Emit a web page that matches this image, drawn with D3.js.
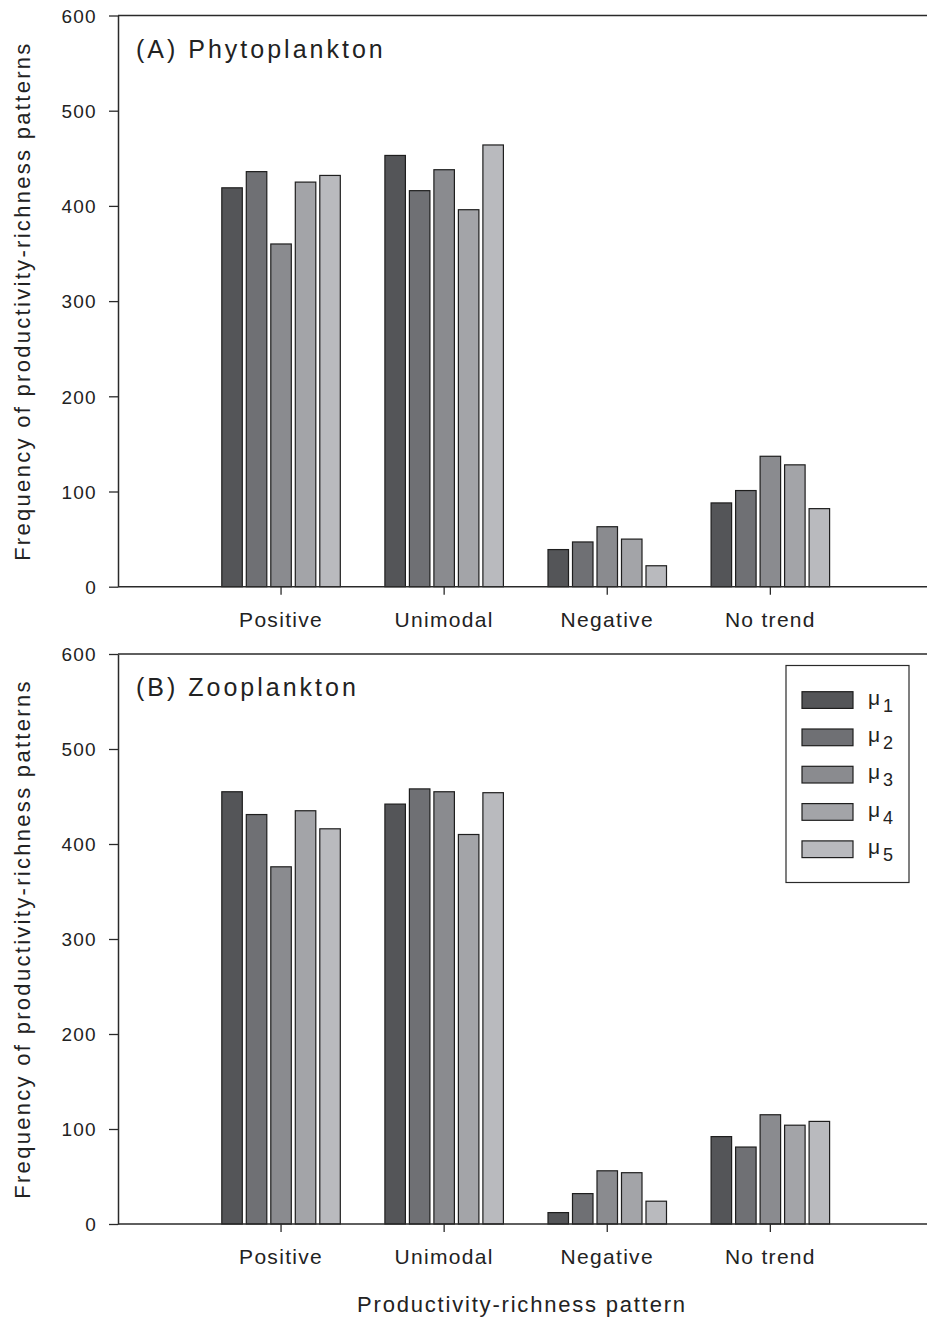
<!DOCTYPE html>
<html><head><meta charset="utf-8">
<script src="https://cdn.jsdelivr.net/npm/d3@7"></script>
<style>
body{margin:0;background:#fff}
text{font-family:"Liberation Sans",Arial,sans-serif;fill:#222}
</style>
</head><body>
<svg id="c" width="927" height="1319"></svg>
<script>
const categories = ["Positive","Unimodal","Negative","No trend"];
const seriesSubs = ["1","2","3","4","5"];
const seriesColors = ["#545558","#6f7074","#8a8b8f","#a3a4a8","#b9babe"];
const yTicks = [0,100,200,300,400,500,600];

const phytoMu1 = [419,453,39,88];
const phytoMu2 = [436,416,47,101];
const phytoMu3 = [360,438,63,137];
const phytoMu4 = [425,396,50,128];
const phytoMu5 = [432,464,22,82];

const zooMu1 = [455,442,12,92];
const zooMu2 = [431,458,32,81];
const zooMu3 = [376,455,56,115];
const zooMu4 = [435,410,54,104];
const zooMu5 = [416,454,24,108];

const svg = d3.select("#c");
svg.append("rect").attr("width",927).attr("height",1319).attr("fill","#fff");

const axisLeftX = 118, axisRightX = 927;
const x = d3.scaleBand().domain(categories).range([199.5, 851.9]);
const groupW = 118.5;
const x1 = d3.scaleBand().domain(d3.range(5)).range([0, groupW]).paddingInner(0.163);
const axisColor = "#2a2a2a";
const FONT = '"Liberation Sans",Arial,sans-serif';

function drawPanel(label, series, yTop, yBottom, legend) {
  const g = svg.append("g");
  const y = d3.scaleLinear().domain([0,600]).range([yBottom, yTop]);

  series.forEach((vals, si) => {
    g.selectAll(null).data(vals).enter().append("rect")
      .attr("x", (d,i) => x(categories[i]) + x.bandwidth()/2 - groupW/2 + x1(si))
      .attr("width", x1.bandwidth())
      .attr("y", d => y(d))
      .attr("height", d => y(0) - y(d))
      .attr("fill", seriesColors[si])
      .attr("stroke", "#1e1e1e")
      .attr("stroke-width", 1.2);
  });

  g.append("line").attr("x1", axisLeftX).attr("x2", axisRightX)
    .attr("y1", y(600)).attr("y2", y(600))
    .attr("stroke", axisColor).attr("stroke-width", 1.5);
  g.append("line").attr("x1", axisLeftX).attr("x2", axisRightX)
    .attr("y1", y(0)).attr("y2", y(0))
    .attr("stroke", axisColor).attr("stroke-width", 1.5);

  const ya = g.append("g").attr("transform", `translate(${axisLeftX},0)`)
    .call(d3.axisLeft(y).tickValues(yTicks).tickSize(9).tickSizeOuter(0));
  ya.select(".domain").attr("stroke", axisColor).attr("stroke-width", 1.5);
  ya.selectAll(".tick line").attr("stroke", axisColor).attr("stroke-width", 1.3);
  ya.selectAll(".tick text").attr("x", -21).attr("dy", "0.36em")
    .style("font-size", "19px").style("letter-spacing", "1.3px")
    .attr("fill", "#222").style("font-family", FONT);

  const xa = g.append("g").attr("transform", `translate(0,${y(0)})`)
    .call(d3.axisBottom(x).tickSize(8).tickSizeOuter(0));
  xa.select(".domain").remove();
  xa.selectAll(".tick line").attr("stroke", axisColor).attr("stroke-width", 1.3);
  xa.selectAll(".tick text").attr("y", 40).attr("dy", 0)
    .style("font-size", "21px").style("letter-spacing", "1.3px")
    .attr("fill", "#222").style("font-family", FONT);

  g.append("text")
    .attr("transform", `translate(30,${(yTop+yBottom)/2}) rotate(-90)`)
    .attr("text-anchor", "middle")
    .style("font-size", "22px").style("letter-spacing", "2.3px")
    .text("Frequency of productivity-richness patterns");

  g.append("text").attr("x", 136).attr("y", yTop + 42)
    .style("font-size", "25px").style("letter-spacing", "3px")
    .text(label);

  if (legend) {
    const lg = g.append("g");
    lg.append("rect").attr("x", 786).attr("y", 665.5).attr("width", 123).attr("height", 217)
      .attr("fill", "#fff").attr("stroke", axisColor).attr("stroke-width", 1.2);
    seriesSubs.forEach((s, i) => {
      const ty = 691.7 + i*37.3;
      lg.append("rect").attr("x", 802).attr("y", ty).attr("width", 51).attr("height", 16.7)
        .attr("fill", seriesColors[i]).attr("stroke", "#1e1e1e").attr("stroke-width", 1.2);
      const t = lg.append("text").attr("x", 868).attr("y", ty + 13).style("font-size", "21px");
      t.append("tspan").text("μ");
      t.append("tspan").attr("dx", 3).attr("dy", 7).style("font-size", "18px").text(s);
    });
  }
}

drawPanel("(A) Phytoplankton", [phytoMu1,phytoMu2,phytoMu3,phytoMu4,phytoMu5], 15.5, 586.7, false);
drawPanel("(B) Zooplankton", [zooMu1,zooMu2,zooMu3,zooMu4,zooMu5], 654, 1224, true);

svg.append("text").attr("x", 522).attr("y", 1311.5).attr("text-anchor", "middle")
  .style("font-size", "22px").style("letter-spacing", "1.8px")
  .text("Productivity-richness pattern");
</script>
</body></html>
